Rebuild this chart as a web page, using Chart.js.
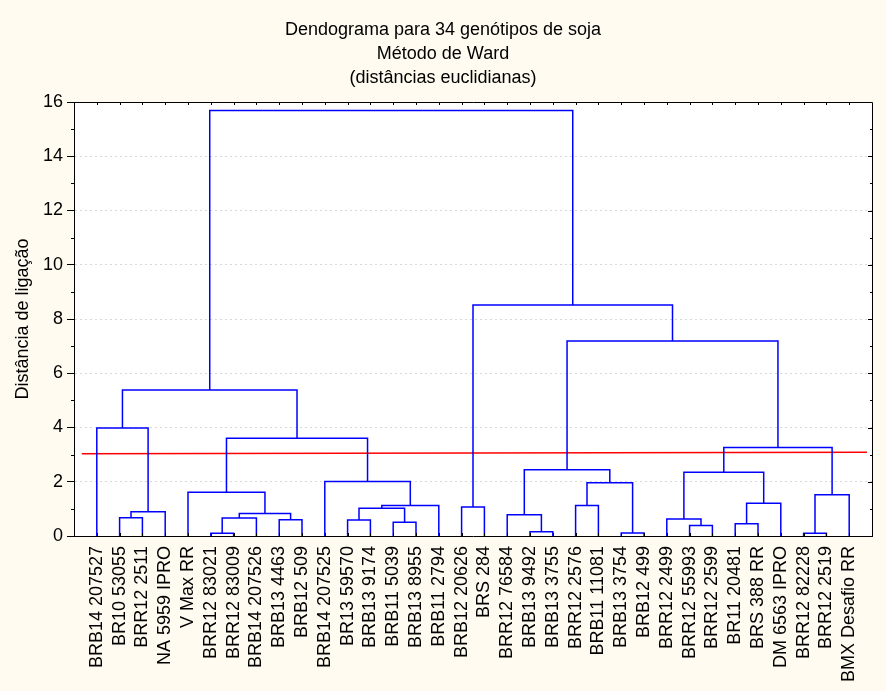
<!DOCTYPE html>
<html>
<head>
<meta charset="utf-8">
<script src="https://cdn.jsdelivr.net/npm/chart.js@4.4.1/dist/chart.umd.min.js"></script>
<style>
  html, body { margin: 0; padding: 0; background: #fffbf0; }
  canvas { display: block; }
</style>
</head>
<body>
<canvas id="chart1" width="886" height="691"></canvas>
<script>
// leaf order along the x axis
const genotypes = [
    'BRB14 207527', 'BR10 53055', 'BRR12 2511', 'NA 5959 IPRO', 'V Max RR',
    'BRR12 83021', 'BRR12 83009', 'BRB14 207526', 'BRB13 4463', 'BRB12 509',
    'BRB14 207525', 'BR13 59570', 'BRB13 9174', 'BRB11 5039', 'BRB13 8955',
    'BRB11 2794', 'BRB12 20626', 'BRS 284', 'BRR12 76584', 'BRB13 9492',
    'BRB13 3755', 'BRR12 2576', 'BRB11 11081', 'BRB13 3754', 'BRB12 499',
    'BRR12 2499', 'BRR12 55993', 'BRR12 2599', 'BR11 20481', 'BRS 388 RR',
    'DM 6563 IPRO', 'BRR12 82228', 'BRR12 2519', 'BMX Desafio RR'
];

// merges: ids 0..33 are leaves, merge k creates cluster id 34 + k
const mergeLeft = [5, 31, 23, 19, 26, 28, 13, 11, 8, 25, 34, 1, 18, 44, 45, 41, 16,
    49, 21, 39, 35, 4, 52, 10, 43, 46, 58, 55, 0, 62, 59, 50, 63];
const mergeRight = [6, 32, 24, 20, 27, 29, 14, 12, 9, 38, 7, 2, 37, 42, 3, 40, 17,
    15, 22, 30, 33, 47, 36, 51, 53, 56, 54, 57, 48, 61, 60, 64, 65];
const mergeHeight = [0.10, 0.10, 0.11, 0.16, 0.39, 0.45, 0.51, 0.59, 0.60, 0.63, 0.66,
    0.67, 0.78, 0.83, 0.89, 1.02, 1.07, 1.12, 1.12, 1.21, 1.52, 1.61, 1.96, 2.01,
    2.35, 2.44, 3.26, 3.60, 3.98, 5.38, 7.19, 8.52, 15.69];

// cut line
const cutX = [0.34, 34.78];
const cutY = [3.03, 3.09];

const yTicks = [0, 2, 4, 6, 8, 10, 12, 14, 16];

function build_links() {
    var nodeX = genotypes.map((g, i) => i + 1);
    var nodeH = genotypes.map(() => 0);
    var sets = [];
    for (var k = 0; k < mergeHeight.length; k++) {
        var a = mergeLeft[k], b = mergeRight[k], h = mergeHeight[k];
        sets.push({
            data: [
                {x: nodeX[a], y: nodeH[a]},
                {x: nodeX[a], y: h},
                {x: nodeX[b], y: h},
                {x: nodeX[b], y: nodeH[b]}
            ],
            borderColor: '#0000ff',
            borderWidth: 1.5,
            pointRadius: 0,
            showLine: true,
            tension: 0
        });
        nodeX.push((nodeX[a] + nodeX[b]) / 2);
        nodeH.push(h);
    }
    sets.push({
        data: cutX.map((x, i) => ({x: x, y: cutY[i]})),
        borderColor: '#ff0000',
        borderWidth: 1.5,
        pointRadius: 0,
        showLine: true
    });
    return sets;
}

const framePlugin = {
    id: 'frame',
    beforeDraw(chart) {
        const ctx = chart.ctx, a = chart.chartArea;
        ctx.save();
        ctx.fillStyle = '#fffbf0';
        ctx.fillRect(0, 0, chart.width, chart.height);
        ctx.fillStyle = '#ffffff';
        ctx.fillRect(a.left, a.top, a.right - a.left, a.bottom - a.top);
        ctx.restore();
    },
    afterDatasetsDraw(chart) {
        const ctx = chart.ctx, a = chart.chartArea;
        const xs = chart.scales.x, ys = chart.scales.y;
        ctx.save();
        ctx.strokeStyle = '#000000';
        ctx.lineWidth = 1;
        ctx.beginPath();
        ctx.moveTo(a.left, a.top + 0.5);
        ctx.lineTo(a.right + 0.5, a.top + 0.5);
        ctx.lineTo(a.right + 0.5, a.bottom);
        // leaf ticks on top and bottom
        genotypes.forEach((g, i) => {
            var px = Math.round(xs.getPixelForValue(i + 1)) + 0.5;
            ctx.moveTo(px, a.top);
            ctx.lineTo(px, a.top + 3);
            ctx.moveTo(px, a.bottom);
            ctx.lineTo(px, a.bottom - 3);
        });
        // right ticks, left minor ticks
        for (var v = 0; v <= 16; v++) {
            var py = Math.round(ys.getPixelForValue(v)) + 0.5;
            ctx.moveTo(a.right, py);
            ctx.lineTo(a.right - (v % 2 ? 2 : 4), py);
            if (v % 2) {
                ctx.moveTo(a.left, py);
                ctx.lineTo(a.left - 3, py);
            }
        }
        ctx.stroke();
        ctx.restore();
    }
};

function show_dendrogram() {
    Chart.defaults.font.family = "'Liberation Sans', Arial, sans-serif";
    Chart.defaults.color = '#000000';

    const config = {
        type: 'scatter',
        data: { datasets: build_links() },
        options: {
            responsive: false,
            animation: false,
            layout: { padding: 0 },
            scales: {
                x: {
                    type: 'linear',
                    min: 0,
                    max: 35,
                    afterBuildTicks: (scale) => {
                        scale.ticks = genotypes.map((g, i) => ({ value: i + 1 }));
                    },
                    afterFit: (scale) => { scale.height = 155; },
                    ticks: {
                        autoSkip: false,
                        minRotation: 90,
                        maxRotation: 90,
                        padding: 10,
                        font: { size: 18 },
                        callback: (v) => genotypes[v - 1]
                    },
                    grid: { display: false, drawTicks: false },
                    border: { display: true, color: '#000000', width: 1 }
                },
                y: {
                    min: 0,
                    max: 16,
                    afterBuildTicks: (scale) => {
                        scale.ticks = yTicks.map((v) => ({ value: v }));
                    },
                    afterFit: (scale) => { scale.width = 74; },
                    ticks: {
                        padding: 4,
                        font: { size: 18 }
                    },
                    grid: {
                        color: '#d8d8d8',
                        tickColor: '#000000',
                        tickLength: 7
                    },
                    border: { display: true, color: '#000000', width: 1, dash: [2, 3] },
                    title: {
                        display: true,
                        text: 'Distância de ligação',
                        font: { size: 18 },
                        padding: { top: 12, bottom: 0 }
                    }
                },
                // empty right margin so the title centres on the whole page
                yRight: {
                    type: 'linear',
                    axis: 'y',
                    position: 'right',
                    afterFit: (scale) => { scale.width = 14; },
                    ticks: { display: false },
                    grid: { display: false, drawTicks: false },
                    border: { display: false }
                }
            },
            plugins: {
                title: {
                    display: true,
                    text: ['Dendograma para 34 genótipos de soja', 'Método de Ward', '(distâncias euclidianas)'],
                    font: { size: 18, weight: 'normal', lineHeight: '24px' },
                    color: '#000000',
                    padding: { top: 18, bottom: 12 }
                },
                legend: { display: false },
                tooltip: { enabled: false }
            }
        },
        plugins: [framePlugin]
    };

    var myDendrogram = new Chart(
        document.getElementById('chart1'),
        config
    );
}

show_dendrogram();
</script>
</body>
</html>
